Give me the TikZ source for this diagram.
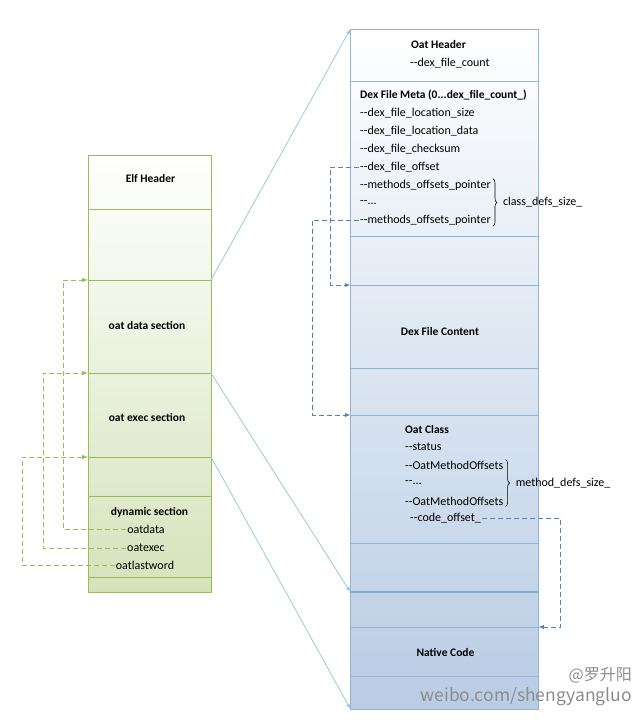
\documentclass[tikz,border=0pt]{standalone}
\usepackage{fontspec}
\setmainfont{Carlito}
\newfontfamily\wmfont{Noto Sans CJK SC}
\usetikzlibrary{positioning, arrows, calc, backgrounds, decorations.pathreplacing}

\definecolor{elfline}{RGB}{155,187,89}
\definecolor{elffill}{RGB}{213,227,187}
\definecolor{oatline}{RGB}{149,179,215}
\definecolor{oatfill}{RGB}{184,204,228}
\definecolor{linkblue}{RGB}{147,205,221}
\definecolor{ptrblue}{RGB}{84,130,185}

\tikzset{
  elfsec/.style={draw=elfline, line width=0.6pt, minimum width=123pt, inner sep=0pt, outer sep=0pt},
  oatsec/.style={draw=oatline, line width=0.6pt, minimum width=188pt, inner sep=0pt, outer sep=0pt},
  txt/.style={inner sep=1pt, anchor=west},
  hdr/.style={inner sep=1pt, font=\fontsize{11.5}{13}\selectfont\bfseries},
  link/.style={draw=linkblue, line width=0.8pt, -latex},
  elfptr/.style={draw=elfline, dash pattern=on 5pt off 3pt, line width=1pt, -latex},
  oatptr/.style={draw=ptrblue, dash pattern=on 5pt off 3pt, line width=0.9pt, -latex},
  brc/.style={draw=black, line width=0.6pt, decorate, decoration={brace, amplitude=4pt}},
  wmark/.style={text=black!45, inner sep=0pt},
}

\begin{document}
\begin{tikzpicture}[x=1pt, y=-1pt, font=\fontsize{12}{14}\selectfont]
\useasboundingbox (0,0) rectangle (640,726);

% elf file
\node[elfsec, minimum height=54pt] (elfhdr) at (149.5,182) {};
\node[elfsec, minimum height=71pt, below=0pt of elfhdr] (elfgapa) {};
\node[elfsec, minimum height=93pt, below=0pt of elfgapa] (oatdata) {};
\node[elfsec, minimum height=84pt, below=0pt of oatdata] (oatexec) {};
\node[elfsec, minimum height=39pt, below=0pt of oatexec] (elfgapb) {};
\node[elfsec, minimum height=81pt, below=0pt of elfgapb] (dynamic) {};
\node[elfsec, minimum height=15pt, below=0pt of dynamic] (elftail) {};

\node[hdr] (elfhdrlbl) at (150.5,179) {Elf Header};
\node[hdr] (oatdatalbl) at (147,325) {oat data section};
\node[hdr] (oatexeclbl) at (147,417) {oat exec section};
\node[hdr] (dynlbl) at (149.5,512) {dynamic section};
\node[inner sep=1pt] (symdata) at (146,529) {oatdata};
\node[inner sep=1pt] (symexec) at (146,548) {oatexec};
\node[inner sep=1pt] (symlast) at (145,565) {oatlastword};

% oat file
\node[oatsec, minimum height=52pt] (oathdr) at (444.4,55) {};
\node[oatsec, minimum height=155pt, below=0pt of oathdr] (dexmeta) {};
\node[oatsec, minimum height=49pt, below=0pt of dexmeta] (metagap) {};
\node[oatsec, minimum height=83pt, below=0pt of metagap] (dexcont) {};
\node[oatsec, minimum height=47pt, below=0pt of dexcont] (contgap) {};
\node[oatsec, minimum height=128pt, below=0pt of contgap] (oatcls) {};
\node[oatsec, minimum height=49pt, below=0pt of oatcls] (clsgap) {};
\node[oatsec, minimum height=35pt, below=0pt of clsgap] (codegap) {};
\node[oatsec, minimum height=49pt, below=0pt of codegap] (native) {};
\node[oatsec, minimum height=33pt, below=0pt of native] (codetail) {};

\begin{scope}[on background layer]
  \shade[top color=white, bottom color=elffill] (elfhdr.north west) rectangle (elftail.south east);
  \shade[top color=white, bottom color=oatfill] (oathdr.north west) rectangle (codetail.south east);
\end{scope}
\draw[ptrblue!70, line width=1.4pt] (codegap.north west) -- (codegap.north east);

\node[hdr] (oathdrlbl) at (438.5,45) {Oat Header};
\node[txt] (dexcount) at (409,63) {-{}-dex\_file\_count};
\node[hdr, anchor=west] (metalbl) at (359,95) {Dex File Meta (0...dex\_file\_count\_)};
\node[txt] (locsize) at (359,113) {-{}-dex\_file\_location\_size};
\node[txt] (locdata) at (359,131) {-{}-dex\_file\_location\_data};
\node[txt] (checksum) at (359,149) {-{}-dex\_file\_checksum};
\node[txt] (dexoff) at (359,167) {-{}-dex\_file\_offset};
\node[txt] (mop1) at (359,185) {-{}-methods\_offsets\_pointer};
\node[txt] (mopdots) at (359,203) {-{}-...};
\node[txt] (mop2) at (359,220) {-{}-methods\_offsets\_pointer};
\draw[brc] ([xshift=1pt]mop1.north east) -- ([xshift=1pt]mop2.south east);
\node[txt] (clsdefs) at ($(mop1.north east)!0.5!(mop2.south east)+(10,0)$) {class\_defs\_size\_};

\node[hdr] (dexcontlbl) at (440,332) {Dex File Content};

\node[hdr, anchor=west] (oatclslbl) at (404,430) {Oat Class};
\node[txt] (status) at (404,447) {-{}-status};
\node[txt] (mof1) at (404,465) {-{}-OatMethodOffsets};
\node[txt] (mofdots) at (404,483) {-{}-...};
\node[txt] (mof2) at (404,501) {-{}-OatMethodOffsets};
\node[txt] (codeoff) at (409,518) {-{}-code\_offset\_};
\draw[brc] ([xshift=1pt]mof1.north east) -- ([xshift=1pt]mof2.south east);
\node[txt] (methdefs) at ($(mof1.north east)!0.5!(mof2.south east)+(10,0)$) {method\_defs\_size\_};

\node[hdr] (nativelbl) at (445.5,652) {Native Code};

% mapping elf -> oat
\draw[link] (elfgapa.south east) -- (oathdr.north west);
\draw[link] (oatdata.south east) -- (codegap.north west);
\draw[link] (oatexec.south east) -- (codetail.south west);

% dynamic symbols
\draw[elfptr] (symdata.west) -| ($(oatdata.north west)+(-25,0)$) -- (oatdata.north west);
\draw[elfptr] (symexec.west) -| ($(oatexec.north west)+(-45,0)$) -- (oatexec.north west);
\draw[elfptr] (symlast.west) -| ($(elfgapb.north west)+(-66,0)$) -- (elfgapb.north west);

% offsets inside oat
\draw[oatptr] (dexoff.west) -| ($(dexcont.north west)+(-20,0)$) -- (dexcont.north west);
\draw[oatptr] (mop2.west) -| ($(oatcls.north west)+(-38,0)$) -- (oatcls.north west);
\draw[oatptr] (codeoff.east) -| ($(native.north east)+(22,0)$) -- (native.north east);

% watermark
\node[wmark, font=\wmfont\fontsize{16}{18}\selectfont, anchor=east] (wbname) at (632,675) {@罗升阳};
\node[wmark, font=\wmfont\fontsize{17.5}{20}\selectfont, anchor=east] (wburl) at (632,697) {weibo.com/shengyangluo};
\end{tikzpicture}
\end{document}
